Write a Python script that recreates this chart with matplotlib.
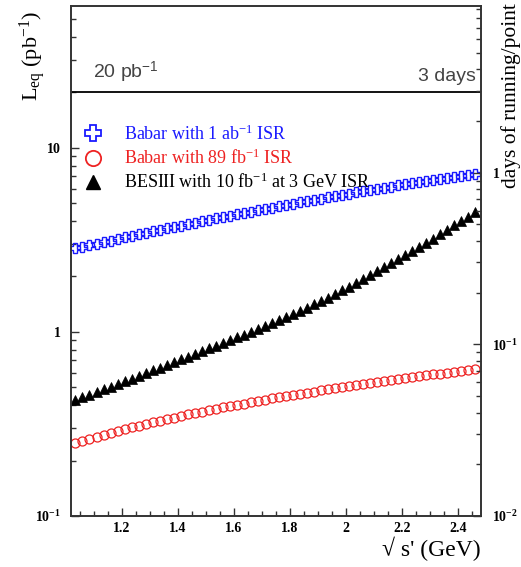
import matplotlib
matplotlib.use("Agg")
import matplotlib.pyplot as plt
from matplotlib.lines import Line2D
from matplotlib.ticker import FixedLocator, MultipleLocator, NullFormatter, LogLocator
import numpy as np

plt.rcParams['font.family'] = ['Liberation Serif', 'DejaVu Serif']
plt.rcParams['mathtext.fontset'] = 'custom'
plt.rcParams['mathtext.rm'] = 'Liberation Serif'
plt.rcParams['mathtext.it'] = 'Liberation Serif:italic'
plt.rcParams['mathtext.bf'] = 'Liberation Serif:bold'
plt.rcParams['mathtext.sf'] = 'Liberation Sans'

# sqrt(s') grid, one point every 25 MeV
s_prime = 1.035 + 0.025 * np.arange(58)

# Babar, 1 ab^-1 ISR  (pb^-1)
babar_1ab = [2.837, 2.894, 2.953, 3.012, 3.072, 3.131, 3.193, 3.255, 3.318, 3.381,
             3.446, 3.511, 3.577, 3.644, 3.711, 3.780, 3.849, 3.919, 3.989, 4.060,
             4.132, 4.205, 4.278, 4.352, 4.427, 4.502, 4.578, 4.655, 4.733, 4.811,
             4.890, 4.970, 5.050, 5.131, 5.212, 5.294, 5.377, 5.460, 5.544, 5.628,
             5.713, 5.799, 5.885, 5.971, 6.058, 6.146, 6.234, 6.322, 6.411, 6.500,
             6.589, 6.679, 6.769, 6.860, 6.950, 7.041, 7.133, 7.225]

# Babar, 89 fb^-1 ISR
babar_89fb = [0.250, 0.257, 0.263, 0.270, 0.276, 0.283, 0.290, 0.296, 0.303, 0.309,
              0.316, 0.323, 0.329, 0.336, 0.342, 0.349, 0.356, 0.362, 0.369, 0.375,
              0.382, 0.389, 0.395, 0.402, 0.408, 0.415, 0.422, 0.428, 0.435, 0.441,
              0.448, 0.455, 0.461, 0.468, 0.474, 0.481, 0.488, 0.494, 0.501, 0.507,
              0.514, 0.521, 0.527, 0.534, 0.540, 0.547, 0.554, 0.560, 0.567, 0.573,
              0.580, 0.587, 0.593, 0.600, 0.606, 0.613, 0.620, 0.626]

# BESIII, 10 fb^-1 at 3 GeV ISR
besiii_10fb = [0.426, 0.441, 0.456, 0.471, 0.488, 0.505, 0.522, 0.540, 0.558, 0.578,
               0.597, 0.618, 0.640, 0.662, 0.684, 0.708, 0.733, 0.759, 0.785, 0.813,
               0.841, 0.871, 0.902, 0.933, 0.967, 1.003, 1.040, 1.078, 1.117, 1.159,
               1.200, 1.245, 1.297, 1.352, 1.409, 1.469, 1.531, 1.600, 1.679, 1.762,
               1.849, 1.941, 2.037, 2.138, 2.249, 2.366, 2.489, 2.618, 2.754, 2.897,
               3.048, 3.206, 3.388, 3.581, 3.784, 3.999, 4.227, 4.467]

labels = ['Babar with 1 ab$^{-1}$ ISR',
          'Babar with 89 fb$^{-1}$ ISR',
          'BESIII with 10 fb$^{-1}$ at 3 GeV ISR']
colors = ['#1a1aff', '#ee2222', 'black']

x_major = [1.2, 1.4, 1.6, 1.8, 2.0, 2.2, 2.4]
x_labels = ['1.2', '1.4', '1.6', '1.8', '2', '2.2', '2.4']

lum_line = 20      # pb^-1
lum_text = '20 pb$^{\\mathsf{-1}}$'
days_text = '3 days'

axcol = '#333333'
fig = plt.figure(figsize=(5.21, 5.67), dpi=100)
ax = fig.add_axes([0.1357, 0.0899, 0.787, 0.900])

ax.plot(s_prime, babar_1ab, ls='none', marker='P', ms=7.5, mfc='none', mec=colors[0], mew=1.0)
ax.plot(s_prime, babar_89fb, ls='none', marker='o', ms=6.5, mfc='none', mec=colors[1], mew=0.9)
ax.plot(s_prime, besiii_10fb, ls='none', marker='^', ms=6.5, mfc='black', mec='black', mew=0.5)

ax.set_yscale('log')
ax.set_xlim(1.018, 2.48)
ax.set_ylim(0.1, 59)

ax.axhline(lum_line, color='black', lw=1.3)
ax.annotate(lum_text, xy=(1.0975, lum_line), xytext=(0, 5), textcoords='offset points',
            ha='left', va='bottom', fontsize=14, family='Liberation Sans', color='#444444')
ax.annotate(days_text, xy=(1.0, lum_line), xycoords=('axes fraction', 'data'),
            xytext=(-3.5, 5), textcoords='offset points',
            ha='right', va='bottom', fontsize=14, family='Liberation Sans', color='#444444')

# ticks
ax.xaxis.set_major_locator(FixedLocator(x_major))
ax.set_xticklabels(x_labels)
ax.xaxis.set_minor_locator(MultipleLocator(0.05))
ax.set_yticks([0.1, 1, 10])
ax.set_yticklabels(['$\\mathbf{10^{-1}}$', '$\\mathbf{1}$', '$\\mathbf{10}$'])
ax.yaxis.set_minor_locator(LogLocator(base=10, subs=np.arange(2, 10)))
ax.yaxis.set_minor_formatter(NullFormatter())
ax.tick_params(which='both', direction='in', top=False, right=False, color=axcol)
ax.tick_params(which='major', length=6, width=1.0, labelsize=10, pad=4)
ax.tick_params(which='minor', length=3.5, width=1.0)
ax.tick_params(axis='y', which='major', pad=7)
for t in ax.get_xticklabels():
    t.set_fontweight('bold')

for sp in ax.spines.values():
    sp.set_color(axcol)
    sp.set_linewidth(1.2)

ax2 = ax.twinx()
ax2.set_yscale('log')
ax2.set_ylim(0.01, 9.4)
ax2.set_yticks([0.01, 0.1, 1])
ax2.set_yticklabels(['$\\mathbf{10^{-2}}$', '$\\mathbf{10^{-1}}$', '$\\mathbf{1}$'])
ax2.yaxis.set_minor_locator(LogLocator(base=10, subs=np.arange(2, 10)))
ax2.yaxis.set_minor_formatter(NullFormatter())
ax2.tick_params(which='both', direction='in', color=axcol)
ax2.tick_params(which='major', length=6, width=1.0, labelsize=10, pad=8)
ax2.tick_params(which='minor', length=3.5, width=1.0)
for sp in ax2.spines.values():
    sp.set_color(axcol)
    sp.set_linewidth(1.2)

ax.set_ylabel('L$_{\\mathrm{eq}}$ (pb$^{-1}$)', fontsize=16, loc='top')
ax.yaxis.set_label_coords(-0.056, 0.99)
ax2.set_ylabel('days of running/point', fontsize=15.5, loc='top')
ax2.yaxis.set_label_coords(1.05, 1.006)
ax.set_xlabel("\u221a s' (GeV)", fontsize=17, loc='right')
ax.xaxis.set_label_coords(1.0, -0.04)

handles = [Line2D([], [], ls='none', marker='P', ms=11, mfc='none', mec=colors[0], mew=1.3),
           Line2D([], [], ls='none', marker='o', ms=11, mfc='none', mec=colors[1], mew=1.3),
           Line2D([], [], ls='none', marker='^', ms=10, mfc='black', mec='black')]
ax.legend(handles, labels, loc='upper left', bbox_to_anchor=(0.0, 0.768), frameon=False,
          fontsize=13, labelcolor=colors, handlelength=2.5, handletextpad=0.43,
          borderpad=0, borderaxespad=0, labelspacing=0.28)

fig.savefig('out.png', dpi=100)
